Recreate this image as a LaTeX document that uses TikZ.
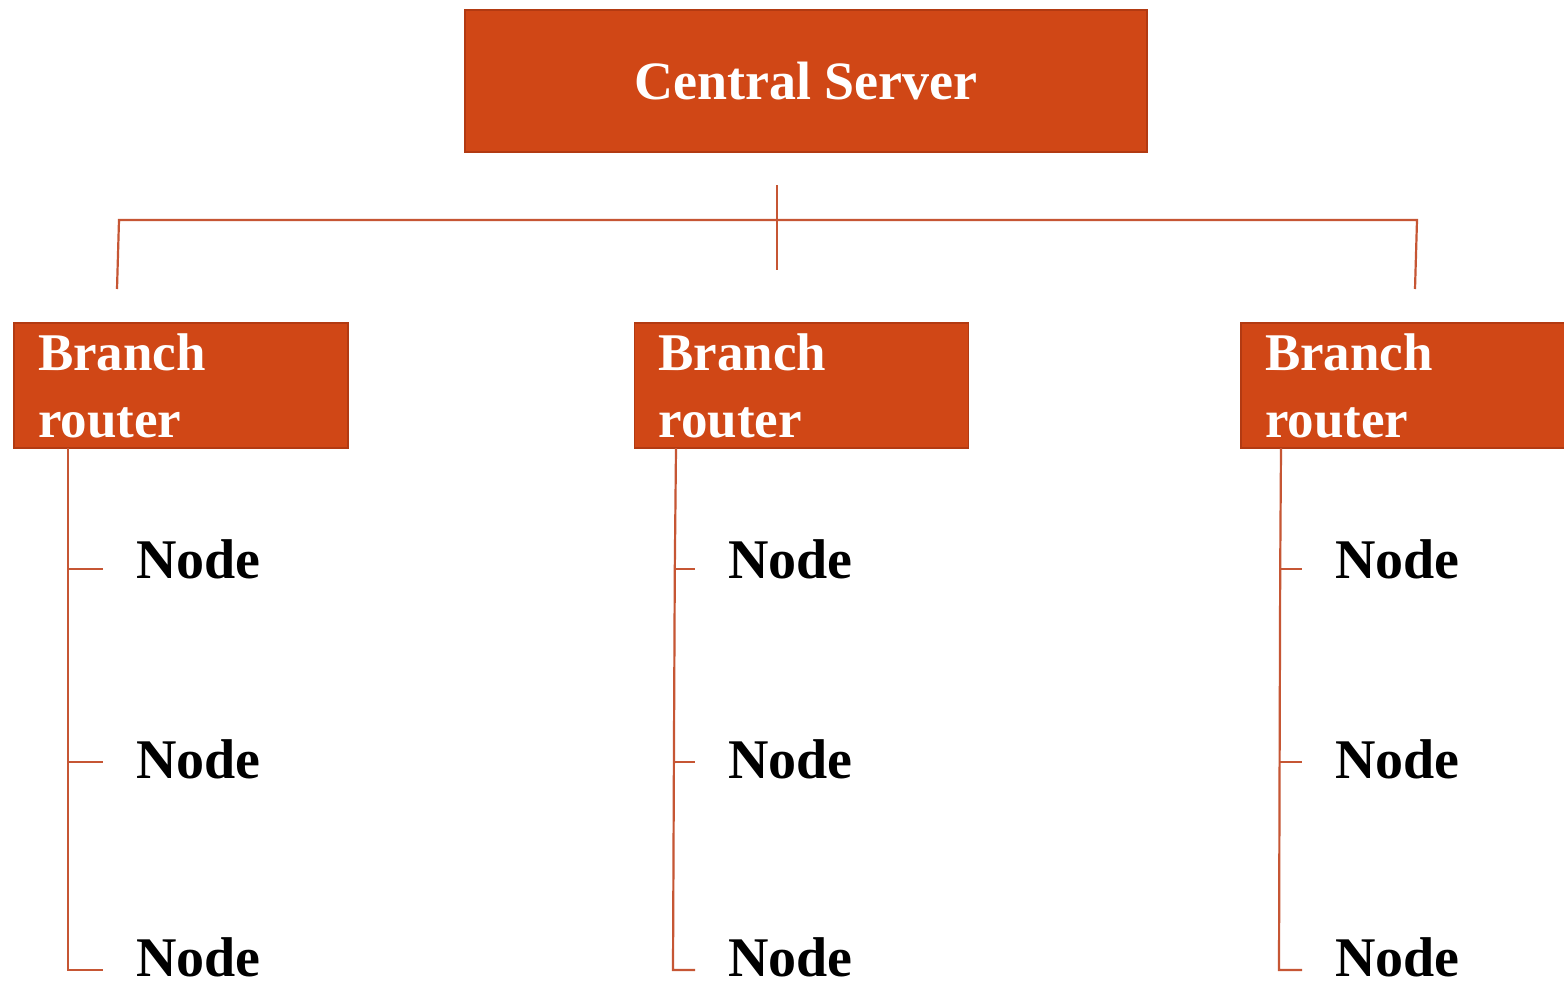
\documentclass[tikz,border=0pt]{standalone}
\usepackage{fontspec}
\setmainfont{Liberation Serif}
\definecolor{boxfill}{RGB}{208,71,22}
\definecolor{boxedge}{RGB}{178,58,18}
\definecolor{wire}{RGB}{198,86,52}
\tikzset{
  x=1pt, y=-1pt,
  serverbox/.style={draw=boxedge, line width=1.5pt, fill=boxfill, text=white,
    minimum width=682pt, minimum height=142pt, inner sep=0pt,
    font=\fontsize{54}{64}\selectfont\bfseries},
  routerbox/.style={draw=boxedge, line width=1.5pt, fill=boxfill, text=white,
    minimum width=334pt, minimum height=125pt, inner xsep=24pt, inner ysep=0pt,
    text width=286pt, align=left,
    font=\fontsize{53}{67}\selectfont\bfseries},
  leaf/.style={anchor=base west, inner sep=0pt, text=black,
    font=\fontsize{56}{64}\selectfont\bfseries},
  wireline/.style={draw=wire, line width=2.2pt},
}
\begin{document}
\begin{tikzpicture}
\clip (0,0) rectangle (1564,986);
\fill[white] (0,0) rectangle (1564,986);

% top level
\node[serverbox] (server) at (806,81) {Central Server};

% distribution bus
\coordinate (hubtop) at (777,185);
\coordinate (hubbot) at (777,270);
\coordinate (busL) at (119,220);
\coordinate (busR) at (1417,220);
\coordinate (dropL) at (117,289);
\coordinate (dropR) at (1415,289);
\draw[wireline] (hubtop) -- (hubbot);
\draw[wireline] (dropL) -- (busL) -- (busR) -- (dropR);

% branch routers (the last one runs past the right edge)
\node[routerbox] (r1) at (181,385.5) {Branch\\router};
\node[routerbox] (r2) at (801.5,385.5) {Branch\\router};
\node[routerbox, minimum width=370pt, text width=322pt] (r3) at (1426,385.5) {Branch\\router};

% end nodes
\foreach \c/\x in {1/136,2/728,3/1335}{
  \node[leaf] (n\c a) at (\x,578) {Node};
  \node[leaf] (n\c b) at (\x,778) {Node};
  \node[leaf] (n\c c) at (\x,976) {Node};
}

% router-to-node trunks
\foreach \c/\xt/\xb in {1/68/68,2/676/673,3/1281/1279}{
  \coordinate (top\c) at (\xt,448);
  \coordinate (ta\c) at ({\xb+0.6*(\xt-\xb)},569);
  \coordinate (tb\c) at ({\xb+0.3*(\xt-\xb)},762);
  \coordinate (tc\c) at (\xb,970);
  \draw[wireline] (top\c) -- (ta\c) -- (tb\c) -- (tc\c) -- ([xshift=-33pt]n\c c.west |- tc\c);
  \draw[wireline] (ta\c) -- ([xshift=-33pt]n\c a.west |- ta\c);
  \draw[wireline] (tb\c) -- ([xshift=-33pt]n\c b.west |- tb\c);
}
\end{tikzpicture}
\end{document}
